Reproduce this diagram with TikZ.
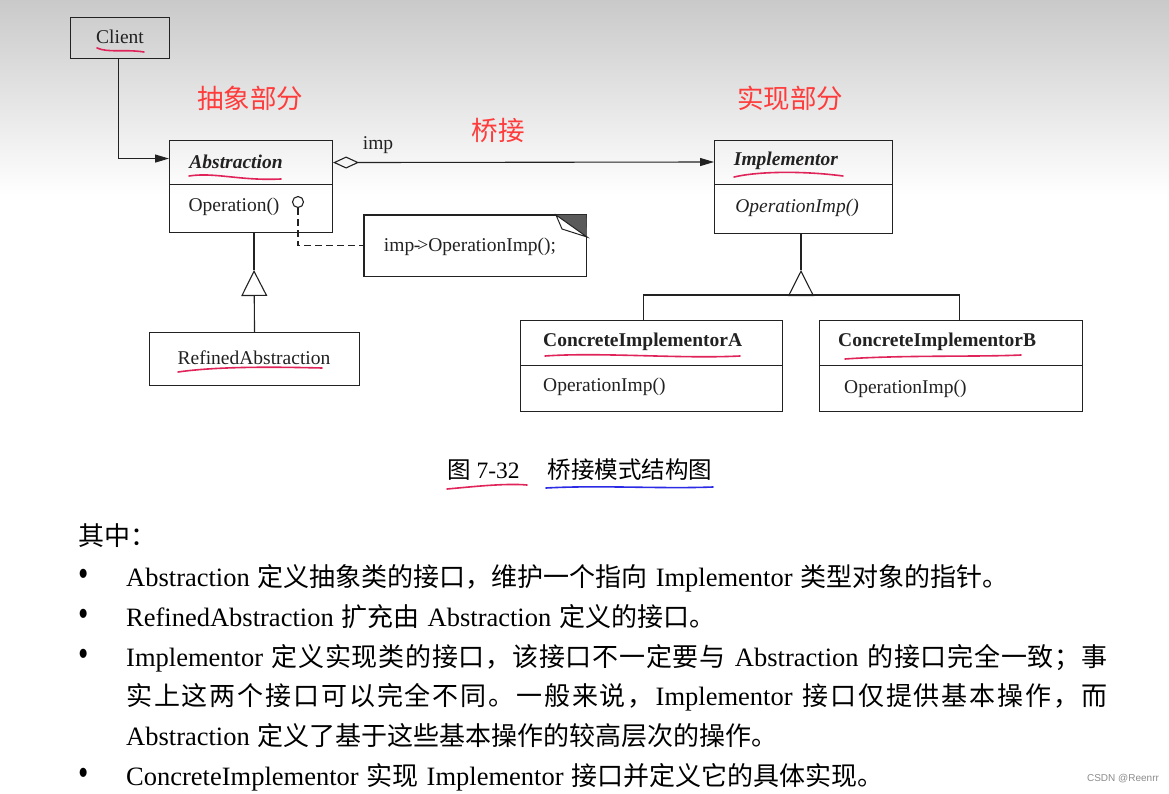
\documentclass[tikz,border=0pt]{standalone}
\usepackage{fontspec}
\usepackage{graphicx}
\setmainfont{Liberation Serif}
\newfontfamily\cjk{Noto Sans CJK SC}
\newfontfamily\cjkb[Scale=0.981]{Noto Sans CJK SC}
\newfontfamily\wmfont{Liberation Sans}
\usetikzlibrary{arrows.meta}
\definecolor{lblred}{HTML}{FF3B3B}
\definecolor{ulred}{HTML}{E0245A}
\definecolor{ulblue}{HTML}{2B2BE6}
\definecolor{ink}{HTML}{222222}
\definecolor{fold}{HTML}{5A5A5A}
% spread CJK characters with equal stretchable glue
\def\spr#1{\sprX#1\relax}
\def\sprX#1{\ifx\relax#1\else#1\hskip0pt plus 1fil\relax\expandafter\sprX\fi}
\def\gap{\hskip 8pt plus 1fil\relax}
\def\ws{\hskip 8pt\relax}
\tikzset{
  box/.style={draw=ink, line width=1.1pt, inner sep=0pt, anchor=north west},
  uml/.style={font=\fontsize{19.5}{22}\selectfont, inner sep=0pt, text=ink},
  conn/.style={draw=ink, line width=1.1pt},
  arrowconn/.style={conn, -{Triangle[length=14pt,width=8pt]}},
  aggconn/.style={conn, {Diamond[open,length=26pt,width=12pt]}-{Triangle[length=14pt,width=8pt]}},
  inherit/.style={conn, -{Triangle[open,length=26pt,width=26pt]}},
  ul/.style={line width=1.6pt, line cap=round},
  lbl/.style={font=\cjk\fontsize{26.5}{30}\selectfont, text=lblred, inner sep=0pt},
  bodytxt/.style={font=\fontsize{26.5}{30}\selectfont, inner sep=0pt, anchor=base west, text=black},
  bullet/.style={font=\fontsize{25.5}{30}\selectfont, inner sep=0pt, text=black},
}
\begin{document}
\begin{tikzpicture}[x=1pt,y=-1pt]
\useasboundingbox (0,0) rectangle (1169,794);
\fill[white] (0,0) rectangle (1169,794);
\shade[top color=black!21, bottom color=white] (0,0) rectangle (1169,195);

% red labels
\node[lbl] (lab1) at (250,98) {抽象部分};
\node[lbl] (lab2) at (790,98) {实现部分};
\node[lbl] (lab3) at (498,130) {桥接};

% Client
\node[box, minimum width=99pt, minimum height=41pt] (client) at (70,17) {};
\node[uml] (clientT) at (120,37) {Client};

% Abstraction
\node[box, minimum width=163pt, minimum height=44pt] (absHead) at (169,140) {};
\node[box, minimum width=163pt, minimum height=48pt] (absBody) at (169,184) {};
\node[uml] (absT) at (236,162) {\textbf{\textit{Abstraction}}};
\node[uml] (absOp) at (234,207) {Operation()};
\node[circle, draw=ink, line width=1.1pt, minimum size=11pt, inner sep=0pt] (lol) at (298,202) {};

% Note
\node[draw=none, minimum width=222pt, minimum height=61pt, inner sep=0pt, anchor=north west] (note) at (364,215) {};
\draw[conn] (note.north west) rectangle (note.south east);
\fill[fold] (556,215) -- (note.north east) -- (587,237) -- cycle;
\draw[ink, line width=1pt, fill=white] (556,215) -- (562,229) -- (587,237) -- cycle;
\node[uml] (noteT) at (470,247) {imp\kern-0.5pt-\kern-3pt>OperationImp();};
\draw[conn, dash pattern=on 7pt off 4pt] (lol.south) |- (note.west);

% imp association
\draw[aggconn] (absHead.east) -- (714,162) coordinate (impIn);
\node[uml] (impLbl) at (378,145) {imp};

% Client -> Abstraction
\draw[arrowconn] ([xshift=-2pt]client.south) |- ([yshift=4pt]absHead.west);

% RefinedAbstraction
\node[box, minimum width=210pt, minimum height=53pt] (refined) at (149,332) {};
\node[uml] (refT) at (254,358) {RefinedAbstraction};
\coordinate (apexA) at (254,270);
\draw[inherit] (refined.north) -- (apexA);
\draw[conn] (apexA) -- (apexA |- absBody.south);

% Implementor
\node[box, minimum width=178pt, minimum height=44pt] (impHead) at (714,140) {};
\node[box, minimum width=178pt, minimum height=49pt] (impBody) at (714,184) {};
\node[uml] (impT) at (786,161) {\textbf{\textit{Implementor}}};
\node[uml] (impOp) at (797,208) {\textit{OperationImp()}};

% Concrete implementors
\node[box, minimum width=262pt, minimum height=45pt] (caHead) at (520,320) {};
\node[box, minimum width=262pt, minimum height=46pt] (caBody) at (520,365) {};
\node[uml, anchor=west] (caT) at (543,342) {\textbf{ConcreteImplementorA}};
\node[uml, anchor=west] (caOp) at (543,387) {OperationImp()};
\node[box, minimum width=263pt, minimum height=45pt] (cbHead) at (819,320) {};
\node[box, minimum width=263pt, minimum height=46pt] (cbBody) at (819,365) {};
\node[uml, anchor=west] (cbT) at (838,342) {\textbf{ConcreteImplementorB}};
\node[uml, anchor=west] (cbOp) at (844,389) {OperationImp()};

\coordinate (apexI) at (801,270);
\coordinate (barI) at (801,295);
\draw[inherit] (barI) -- (apexI);
\draw[conn] (apexI) -- (apexI |- impBody.south);
\draw[conn] ([xshift=-8pt]caHead.north) |- (barI) -| ([xshift=8pt]cbHead.north);

% red / blue hand underlines
\draw[ul, ulred] (97,48) .. controls (108,53) and (125,49) .. (144,52);
\draw[ul, ulred] (189,176) .. controls (215,172) and (240,181) .. (281,179);
\draw[ul, ulred] (734,177) .. controls (760,171) and (805,171) .. (843,176);
\draw[ul, ulred] (545,356) .. controls (600,352) and (680,359) .. (740,356);
\draw[ul, ulred] (845,359) .. controls (900,355) and (980,357) .. (1021,355);
\draw[ul, ulred] (178,372) .. controls (220,366) and (280,367) .. (322,368);
\draw[ul, ulred] (447,489) .. controls (470,487) and (505,483) .. (527,485);
\draw[ul, ulblue] (546,488) .. controls (600,485) and (660,489) .. (713,487);

% caption
\node[inner sep=0pt, font=\fontsize{23.5}{26}\selectfont, anchor=west] (cap) at (447,470) {{\cjk 图} 7-32\hspace{28pt}{\cjk 桥接模式结构图}};

% body text
\node[bodytxt] (t0) at (78,545) {{\cjkb 其中：}};
\node[bullet] (b1) at (84,578) {\scalebox{1.15}[1.5]{•}};
\node[bullet] (b2) at (84,618) {\scalebox{1.15}[1.5]{•}};
\node[bullet] (b3) at (84,658) {\scalebox{1.15}[1.5]{•}};
\node[bullet] (b4) at (84,777) {\scalebox{1.15}[1.5]{•}};
\node[bodytxt] (t1) at (126,586) {Abstraction\ws{\cjkb 定义抽象类的接口，维护一个指向}\ws Implementor\ws{\cjkb 类型对象的指针。}};
\node[bodytxt] (t2) at (126,626) {RefinedAbstraction\ws{\cjkb 扩充由}\ws Abstraction\ws{\cjkb 定义的接口。}};
\node[bodytxt] (t3) at (126,666) {\makebox[981pt][s]{Implementor\gap{\cjkb\spr{定义实现类的接口，该接口不一定要与}}\gap Abstraction\gap{\cjkb\spr{的接口完全一致；事}}\unskip}};
\node[bodytxt] (t4) at (126,705) {\makebox[981pt][s]{{\cjkb\spr{实上这两个接口可以完全不同。一般来说，}}Implementor\gap{\cjkb\spr{接口仅提供基本操作，而}}\unskip}};
\node[bodytxt] (t5) at (126,745) {Abstraction\ws{\cjkb 定义了基于这些基本操作的较高层次的操作。}};
\node[bodytxt] (t6) at (126,785) {ConcreteImplementor\ws{\cjkb 实现}\ws Implementor\ws{\cjkb 接口并定义它的具体实现。}};

\node[inner sep=0pt, font=\wmfont\fontsize{10}{12}\selectfont, text=black!45] (wm) at (1123,779) {CSDN @Reenrr};
\end{tikzpicture}
\end{document}
